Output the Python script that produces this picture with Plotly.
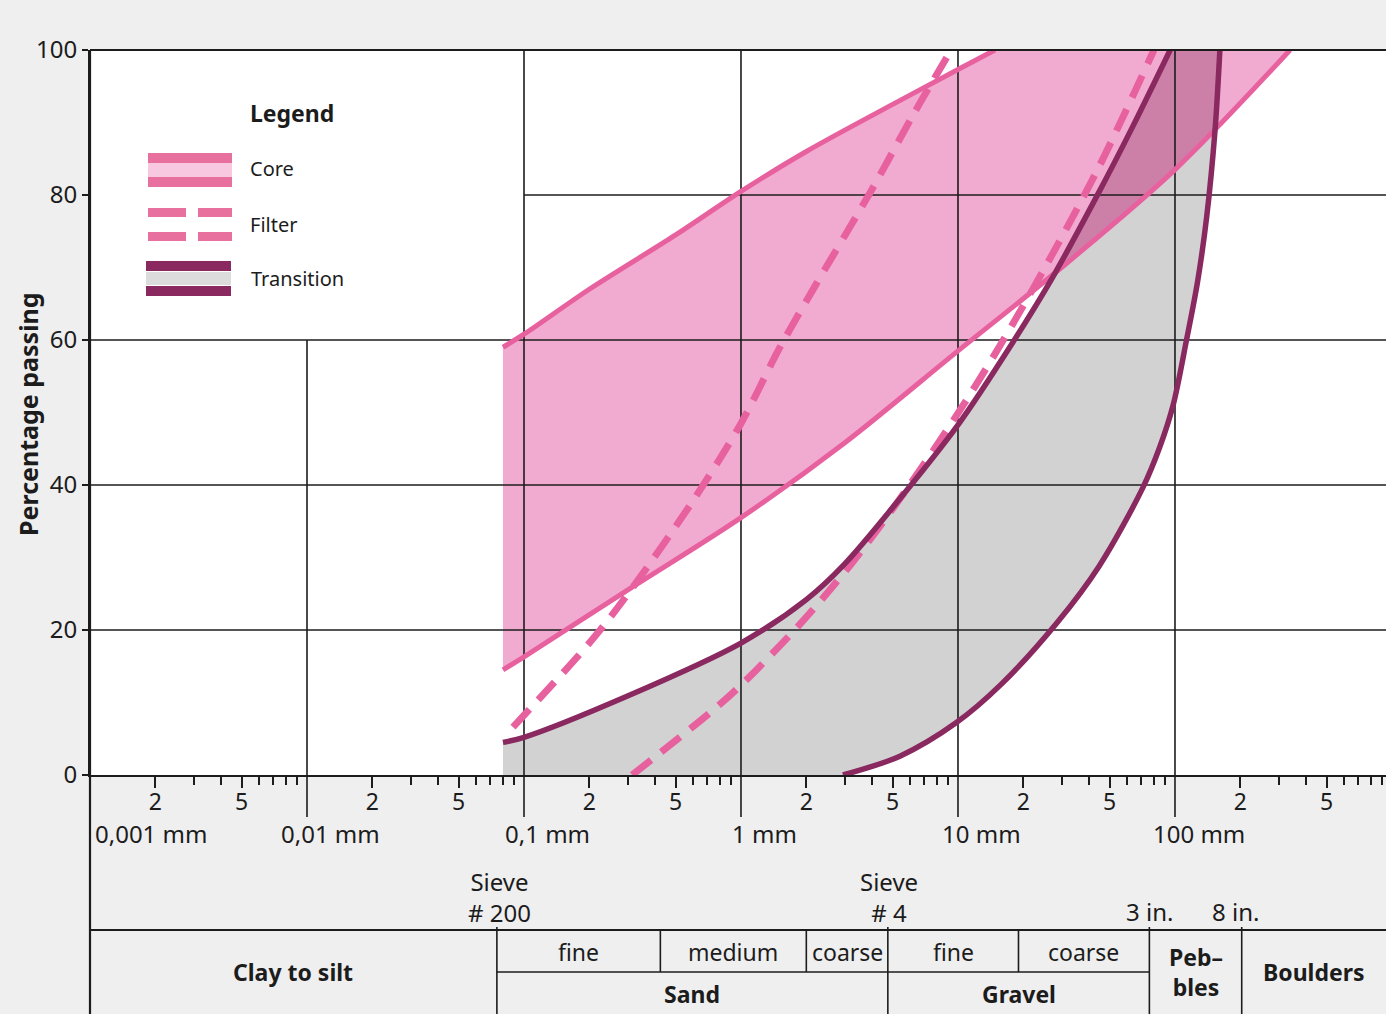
import numpy as np
import plotly.graph_objects as go

# ---------------- data (grain size in mm, percentage passing) ----------------
core_upper_mm = [0.08, 0.1, 0.2, 0.5, 1.0, 2.0, 5.0, 10.0, 14.8]
core_upper_pct = [59, 60.8, 67, 74.5, 80.5, 86, 92.5, 97.3, 100]
core_lower_mm = [0.08, 0.1, 0.3, 1.0, 3.0, 10.0, 30.0, 100, 339]
core_lower_pct = [14.5, 16.3, 25.5, 35.5, 45.8, 58.5, 70, 83.5, 100]

filter_fine_mm = [0.089, 0.2, 0.3, 0.6, 1.0, 1.5, 2.2, 4.0, 6.2, 9.3]
filter_fine_pct = [6.6, 18.2, 24.9, 37.8, 48.5, 58.8, 67.5, 80.7, 91, 100]
filter_coarse_mm = [0.315, 0.74, 1.0, 1.87, 3.18, 5.4, 9.8, 15.6, 26.5, 45, 80]
filter_coarse_pct = [0, 8.9, 12.4, 20.8, 28.9, 38.1, 49.5, 59.2, 71.2, 84.1, 100]

trans_upper_mm = [0.08, 0.1, 0.3, 1.0, 2.0, 3.0, 5.0, 10.0, 18.0, 27.0, 45, 64, 95]
trans_upper_pct = [4.5, 5.2, 10.9, 18.2, 24.2, 29.1, 36.9, 48.3, 59.8, 68.4, 80.6, 89.5, 100]
trans_lower_mm = [2.95, 5.4, 9.8, 15.8, 28.6, 44.7, 71.3, 85, 98, 113, 127, 140, 153, 161]
trans_lower_pct = [0, 2.6, 7.2, 12.5, 21, 28.8, 39.7, 45.2, 51, 60, 68, 77, 89, 100]

y_ticks = [0, 20, 40, 60, 80, 100]
decade_mm = [0.001, 0.01, 0.1, 1, 10, 100]
decade_labels = ["0,001 mm", "0,01 mm", "0,1 mm", "1 mm", "10 mm", "100 mm"]

# table boundaries (mm)
sieve200_mm, sieve4_mm, in3_mm, in8_mm = 0.075, 4.75, 76.2, 203.0
sub_bounds_mm = [0.075, 0.425, 2.0, 4.75, 19.0, 76.2]
sub_labels = ["fine", "medium", "coarse", "fine", "coarse"]
main_bounds_mm = [0.001, 0.075, 4.75, 76.2, 203.0, None]
main_labels = ["Clay to silt", "Sand", "Gravel", "Peb\u2013<br>bles", "Boulders"]

# ---------------- layout geometry ----------------
W, H = 1386, 1014
ML, MR, MT, MB = 90, 0, 50, 239
PW, PH = W - ML - MR, H - MT - MB
XMIN, XMAX = -3.0, 2.9724

INK = "#1c1c1c"
PINK_LINE = "#e8619f"
PINK_FILL = "#f2abd0"
MAUVE = "#cc80a8"
GRAY_FILL = "#d2d2d2"
DARK = "#8a2860"
FONT = "Noto Sans"


def xp(d):
    return (np.log10(d) - XMIN) / (XMAX - XMIN)


def pxx(px):
    return (px - ML) / PW


def pxy(py):
    return (H - MB - py) / PH


fig = go.Figure()

# gray transition band
gx = trans_upper_mm + trans_lower_mm[::-1] + [trans_upper_mm[0]]
gy = trans_upper_pct + trans_lower_pct[::-1] + [0]
fig.add_trace(go.Scatter(x=gx, y=gy, fill="toself", fillcolor=GRAY_FILL,
                         line=dict(width=0), mode="lines", hoverinfo="skip"))

# pink core band
cx = core_upper_mm + core_lower_mm[::-1]
cy = core_upper_pct + core_lower_pct[::-1]
fig.add_trace(go.Scatter(x=cx, y=cy, fill="toself", fillcolor=PINK_FILL,
                         line=dict(width=0), mode="lines", hoverinfo="skip"))

# overlap of the two bands
g = np.linspace(np.log10(core_lower_mm[0]), np.log10(core_lower_mm[-1]), 1500)


def band(mm, pct):
    return np.interp(g, np.log10(mm), pct, left=0, right=100)


lo = np.maximum(band(trans_lower_mm, trans_lower_pct), band(core_lower_mm, core_lower_pct))
hi = np.minimum(band(trans_upper_mm, trans_upper_pct), band(core_upper_mm, core_upper_pct))
msk = hi > lo
ox = np.concatenate([10 ** g[msk], (10 ** g[msk])[::-1]])
oy = np.concatenate([lo[msk], hi[msk][::-1]])
fig.add_trace(go.Scatter(x=ox, y=oy, fill="toself", fillcolor=MAUVE,
                         line=dict(width=0), mode="lines", hoverinfo="skip"))

# grid lines
top_mm = 10 ** XMAX
gxs, gys = [], []
for d in [0.1, 1, 10, 100]:
    gxs += [d, d, None]
    gys += [0, 100, None]
gxs += [0.01, 0.01, None]
gys += [0, 60, None]
for v in [20, 40, 60]:
    gxs += [0.001, top_mm, None]
    gys += [v, v, None]
gxs += [0.1, top_mm, None]
gys += [80, 80, None]
fig.add_trace(go.Scatter(x=gxs, y=gys, mode="lines", line=dict(color=INK, width=1.6),
                         hoverinfo="skip"))

# curves
sp = dict(shape="spline", smoothing=0.9)
for mm, pct in [(core_upper_mm, core_upper_pct), (core_lower_mm, core_lower_pct)]:
    fig.add_trace(go.Scatter(x=mm, y=pct, mode="lines",
                             line=dict(color=PINK_LINE, width=5, **sp)))
for mm, pct in [(filter_fine_mm, filter_fine_pct), (filter_coarse_mm, filter_coarse_pct)]:
    fig.add_trace(go.Scatter(x=mm, y=pct, mode="lines",
                             line=dict(color=PINK_LINE, width=7, dash="24px,13px", **sp)))
for mm, pct in [(trans_upper_mm, trans_upper_pct), (trans_lower_mm, trans_lower_pct)]:
    fig.add_trace(go.Scatter(x=mm, y=pct, mode="lines",
                             line=dict(color=DARK, width=5.5, **sp)))

# ---------------- axes ----------------
major_vals, major_text, minor_vals = [], [], []
for e in range(-3, 3):
    for m in range(2, 10):
        v = m * 10.0 ** e
        if np.log10(v) > XMAX:
            continue
        if m in (2, 5):
            major_vals.append(v)
            major_text.append(str(m))
        else:
            minor_vals.append(v)

fig.update_xaxes(type="log", range=[XMIN, XMAX], tickvals=major_vals, ticktext=major_text,
                 ticks="outside", ticklen=11, tickwidth=1.5, tickcolor=INK,
                 ticklabelstandoff=-6,
                 tickfont=dict(size=23, color=INK, family=FONT),
                 showgrid=False, zeroline=False, showline=True, linecolor=INK, linewidth=2,
                 minor=dict(tickvals=minor_vals, ticks="outside", ticklen=8, tickwidth=1.5,
                            tickcolor=INK, showgrid=False))
fig.update_yaxes(range=[0, 100], tickvals=y_ticks, ticks="outside", ticklen=6, tickwidth=1.5,
                 tickcolor=INK, tickfont=dict(size=24, color=INK, family=FONT),
                 showgrid=False, zeroline=False, showline=True, linecolor=INK, linewidth=2)

shapes = []
annotations = []


def line(x0, y0, x1, y1, w=2):
    shapes.append(dict(type="line", xref="paper", yref="paper", x0=x0, y0=y0, x1=x1, y1=y1,
                       line=dict(color=INK, width=w)))


def rect(x0, y0, x1, y1, color):
    shapes.append(dict(type="rect", xref="paper", yref="paper", x0=pxx(x0), x1=pxx(x1),
                       y0=pxy(y0), y1=pxy(y1), fillcolor=color, line=dict(width=0)))


def text(x, y, s, size=23, bold=False, xanchor="center", yanchor="middle", xshift=0, angle=0):
    annotations.append(dict(xref="paper", yref="paper", x=x, y=y, text=("<b>%s</b>" % s) if bold else s,
                            showarrow=False, xanchor=xanchor, yanchor=yanchor, xshift=xshift,
                            textangle=angle, font=dict(size=size, color=INK, family=FONT)))


# borders
line(0, 1, 1, 1, 2.2)
line(0, pxy(H), 0, 1, 2.2)

# decade ticks (long) and labels
for d, lab in zip(decade_mm, decade_labels):
    if d > 0.001:
        line(xp(d), 0, xp(d), pxy(817), 1.6)
        text(xp(d), pxy(833), lab, size=24, xshift=24)
    else:
        text(xp(d), pxy(833), lab, size=24, xanchor="left", xshift=3)

# sieve labels
text(xp(sieve200_mm), pxy(897), "Sieve<br># 200", size=24, xshift=3)
text(xp(sieve4_mm), pxy(897), "Sieve<br># 4", size=24, xshift=1)
text(xp(in3_mm), pxy(911), "3 in.", size=24)
text(xp(in8_mm), pxy(911), "8 in.", size=24, xshift=-6)

# table
line(0, pxy(930), 1, pxy(930), 2)
line(xp(sub_bounds_mm[0]), pxy(972), xp(sub_bounds_mm[-1]), pxy(972), 1.6)
for d in [sieve200_mm, sieve4_mm, in3_mm, in8_mm]:
    line(xp(d), pxy(927), xp(d), pxy(H), 1.6)
for d in sub_bounds_mm[1:-1]:
    if d != sieve4_mm:
        line(xp(d), pxy(930), xp(d), pxy(972), 1.6)
for a, b, lab in zip(sub_bounds_mm[:-1], sub_bounds_mm[1:], sub_labels):
    text((xp(a) + xp(b)) / 2, pxy(952), lab, size=23)
for i, lab in enumerate(main_labels):
    a = xp(main_bounds_mm[i])
    b = 1.0 if main_bounds_mm[i + 1] is None else xp(main_bounds_mm[i + 1])
    y = 994 if lab in ("Sand", "Gravel") else 972
    text((a + b) / 2, pxy(y), lab, size=23, bold=True)

# axis title
text(pxx(28), pxy(414), "Percentage passing", size=25, bold=True, angle=-90)

# legend (drawn inside plot)
text(pxx(248), pxy(113), "Legend", size=23, bold=True, xanchor="left")
rect(148, 153, 232, 187, "#e8709f")
rect(148, 163, 232, 177, "#f7c8df")
text(pxx(248), pxy(168), "Core", size=20, xanchor="left")
for (x0, x1) in [(148, 186), (198, 232)]:
    rect(x0, 208, x1, 217, "#e8709f")
    rect(x0, 232, x1, 241, "#e8709f")
text(pxx(248), pxy(224), "Filter", size=20, xanchor="left")
rect(146, 261, 231, 271, DARK)
rect(146, 272, 231, 285, "#dcdcdc")
rect(146, 286, 231, 296, DARK)
text(pxx(249), pxy(278), "Transition", size=20, xanchor="left")

fig.update_layout(width=W, height=H, margin=dict(l=ML, r=MR, t=MT, b=MB, pad=0),
                  paper_bgcolor="#efefef", plot_bgcolor="white", showlegend=False,
                  font=dict(family=FONT, color=INK), shapes=shapes, annotations=annotations)

fig.write_html("out.html", config={"displayModeBar": False},
               post_script="document.body.style.margin='0';document.body.style.overflow='hidden';")
